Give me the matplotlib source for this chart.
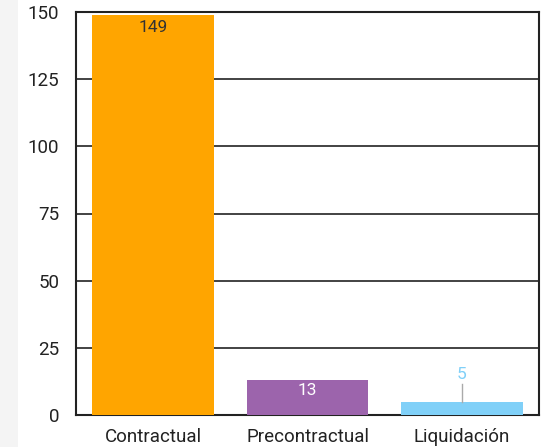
import matplotlib
matplotlib.use("Agg")
import matplotlib.pyplot as plt
from matplotlib.patches import Rectangle

categories = ["Contractual", "Precontractual", "Liquidación"]
values = [149, 13, 5]
colors = ["#FFA500", "#9C64AC", "#80D0F8"]
yticks = [0, 25, 50, 75, 100, 125, 150]

plt.rcParams['font.family'] = ['Roboto', 'DejaVu Sans']

fig = plt.figure(figsize=(5.41, 4.47), dpi=100)
fig.patch.set_facecolor("white")
fig.add_artist(Rectangle((0, 0), 18/541, 1, transform=fig.transFigure,
                         facecolor="#f4f4f4", edgecolor="none", zorder=0))
ax = fig.add_axes([76/541, 32/447, 463/541, 403/447])
x = list(range(len(categories)))
ax.bar(x, values, width=0.79, color=colors, zorder=3)
ax.set_xlim(-0.5, 2.5)
ax.set_ylim(0, 150)
ax.set_yticks(yticks)
ax.set_yticklabels([str(v) for v in yticks], fontsize=13.5, color="#222222")
ax.set_xticks(x)
ax.set_xticklabels(categories, fontsize=13.5, color="#222222")
ax.tick_params(axis="both", length=0)
ax.tick_params(axis="x", pad=9)
ax.tick_params(axis="y", pad=12)
ax.grid(axis="y", color="#222222", linewidth=1.2, zorder=1)
for s in ax.spines.values():
    s.set_color("#222222")
    s.set_linewidth(1.5)

ax.text(0, 147, str(values[0]), ha="center", va="top", fontsize=12.5, color="#333333", zorder=4)
ax.text(1, values[1] - 1.2, str(values[1]), ha="center", va="top", fontsize=12.5, color="white", zorder=4)
ax.plot([2, 2], [values[2], values[2] + 6.5], color="#aaaaaa", linewidth=1, zorder=4)
ax.text(2, values[2] + 7.3, str(values[2]), ha="center", va="bottom", fontsize=12.5, color="#80D0F8", zorder=4)

fig.savefig("out.png", dpi=100)
